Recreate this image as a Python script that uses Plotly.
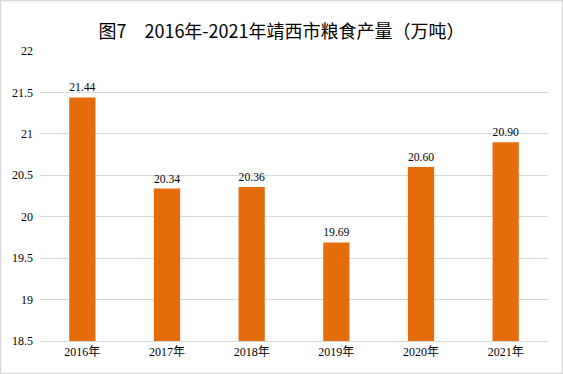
import plotly.graph_objects as go

years = ["2016年", "2017年", "2018年", "2019年", "2020年", "2021年"]
output = [21.44, 20.34, 20.36, 19.69, 20.60, 20.90]
y_ticks = [18.5, 19, 19.5, 20, 20.5, 21, 21.5, 22]
y_tick_labels = ["18.5", "19", "19.5", "20", "20.5", "21", "21.5", "22"]
title_text = "图7　2016年-2021年靖西市粮食产量（万吨）"

serif = "Times New Roman, Liberation Serif, Noto Sans CJK SC, serif"

fig = go.Figure()
fig.add_trace(go.Bar(
    x=years, y=output,
    marker=dict(color="#E46C0A", line=dict(width=0)),
    width=0.31,
    text=[f"{v:.2f}" for v in output],
    textposition="outside",
    textfont=dict(family=serif, size=12, color="#000000"),
    cliponaxis=False,
))

fig.update_layout(
    width=563, height=374,
    margin=dict(l=40, r=15, t=51, b=33),
    paper_bgcolor="white", plot_bgcolor="white",
    showlegend=False,
    title=dict(text=title_text, x=0.5, xanchor="center", y=0.915, yanchor="middle",
               font=dict(family="Noto Sans CJK SC, sans-serif", size=18, color="#000000")),
    xaxis=dict(showgrid=False, showline=True, linecolor="#D9D9D9", linewidth=1,
               ticks="", tickfont=dict(family=serif, size=12, color="#000000")),
    yaxis=dict(range=[18.5, 22], tickvals=y_ticks, ticktext=y_tick_labels,
               showgrid=True, gridcolor="#D9D9D9", gridwidth=1, zeroline=False,
               showline=False, ticks="", ticklabelstandoff=6,
               tickfont=dict(family=serif, size=12, color="#000000")),
    shapes=[dict(type="rect", xref="paper", yref="paper", x0=-39.5/508, x1=1+14.5/508,
                 y0=-32.5/290, y1=1+50.5/290, line=dict(color="#D9D9D9", width=1.5))],
    bargap=0.69,
)

fig.write_html("out.html", config={"displayModeBar": False},
               post_script="document.body.style.margin='0';document.body.style.overflow='hidden';")
